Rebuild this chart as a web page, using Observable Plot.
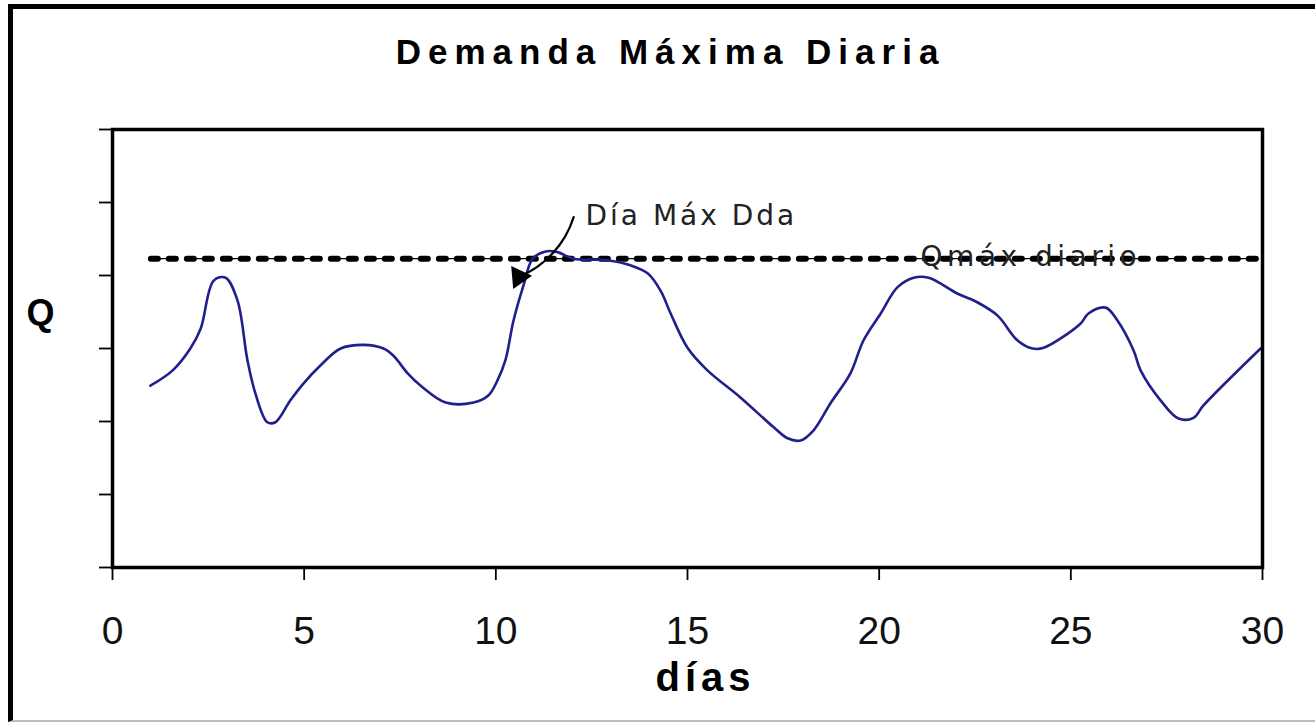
<!DOCTYPE html>
<html>
<head>
<meta charset="utf-8">
<script src="https://cdn.jsdelivr.net/npm/d3@7"></script>
<script src="https://cdn.jsdelivr.net/npm/@observablehq/plot@0.6"></script>
<style>
  html, body { margin: 0; padding: 0; background: #fff; width: 1315px; height: 723px; overflow: hidden; }
  #wrap { position: relative; width: 1315px; height: 723px; }
  #chart { position: absolute; left: 0; top: 0; }
  #border { position: absolute; left: 8px; top: 4px; width: 1400px; height: 711px;
            border-left: 5px solid #000; border-top: 5px solid #000; border-bottom: 2px solid #bbb;
            pointer-events: none; }
</style>
</head>
<body>
<div id="wrap"><div id="chart"></div><div id="border"></div></div>
<script>
// ---- data ----
const days = [0.99, 1.57, 2.03, 2.30, 2.64, 2.95, 3.26, 3.52, 3.73, 4.04, 4.25, 4.64, 4.98, 5.43, 5.95,
  6.55, 7.07, 7.33, 7.70, 8.04, 8.69, 9.42, 9.81, 10.04, 10.25, 10.46, 10.72, 10.96, 11.30, 11.61,
  12.03, 12.91, 13.51, 13.96, 14.30, 14.56, 15.00, 15.52, 16.38, 17.25, 17.61, 17.95, 18.29, 18.73,
  19.25, 19.59, 20.04, 20.48, 20.90, 21.29, 22.05, 22.57, 23.09, 23.61, 24.00, 24.29, 25.25, 25.46,
  25.91, 26.22, 26.64, 26.82, 27.34, 27.81, 28.20, 28.46, 29.95];
const Q = [2.49, 2.70, 3.00, 3.27, 3.93, 3.97, 3.66, 2.84, 2.38, 1.99, 1.99, 2.29, 2.52, 2.77, 3.00,
  3.05, 3.00, 2.90, 2.66, 2.49, 2.26, 2.26, 2.36, 2.56, 2.84, 3.38, 3.86, 4.23, 4.33, 4.32,
  4.23, 4.21, 4.14, 4.03, 3.79, 3.48, 3.01, 2.70, 2.33, 1.92, 1.77, 1.74, 1.88, 2.25,
  2.66, 3.11, 3.48, 3.84, 3.97, 3.97, 3.75, 3.63, 3.45, 3.11, 3.00, 3.01, 3.34, 3.48,
  3.56, 3.38, 2.97, 2.70, 2.29, 2.04, 2.05, 2.22, 3.00];
const xTicks = [0, 5, 10, 15, 20, 25, 30];
const yTicks = [0, 1, 2, 3, 4, 5, 6];
const qMaxValue = 4.23;
const qMaxDays = [1, 30];
const title = "Demanda Máxima Diaria";
const xLabel = "días";
const yLabel = "Q";
const noteText = "Día Máx Dda";
const noteAt = [12.34, 4.82];
const arrowFrom = [12.03, 4.80];
const arrowTo = [10.6, 3.98];
const qMaxText = "Qmáx diario";
const qMaxTextAt = [21.08, 4.25];

const series = days.map((d, i) => ({day: d, q: Q[i]}));
const qMaxLine = qMaxDays.map(d => ({day: d, q: qMaxValue}));

const chart = Plot.plot({
  width: 1315,
  height: 723,
  marginLeft: 112,
  marginRight: 53,
  marginTop: 129,
  marginBottom: 156,
  x: {domain: [0, 30]},
  y: {domain: [0, 6]},
  style: {fontFamily: "'Liberation Sans', Arial, sans-serif", fontSize: "39px", background: "transparent", overflow: "visible"},
  marks: [
    Plot.axisY({ticks: yTicks, tickSize: 13, tickFormat: () => "", strokeWidth: 1.8, label: null}),
    Plot.axisX({ticks: xTicks, tickSize: 13, tickPadding: 36, fontSize: 39, label: null, strokeWidth: 1.8, fill: "#111"}),
    Plot.line(qMaxLine, {x: "day", y: "q", stroke: "#000", strokeWidth: 1.2, strokeDasharray: "9,27", strokeDashoffset: -8}),
    Plot.line(qMaxLine, {x: "day", y: "q", stroke: "#000", strokeWidth: 6, strokeDasharray: "7,11"}),
    Plot.line(series, {x: "day", y: "q", stroke: "#20208c", strokeWidth: 2.6, curve: "catmull-rom"}),
    Plot.arrow([{x1: arrowFrom[0], y1: arrowFrom[1], x2: arrowTo[0], y2: arrowTo[1]}],
      {x1: "x1", y1: "y1", x2: "x2", y2: "y2", bend: 25, headLength: 0, stroke: "#000", strokeWidth: 2.2}),
    Plot.dot([{x: arrowTo[0], y: arrowTo[1]}], {x: "x", y: "y", symbol: "triangle2", r: 11, fill: "#000", rotate: 205}),
    Plot.text([noteText], {x: noteAt[0], y: noteAt[1], text: d => d, textAnchor: "start", fontSize: 28,
      fontFamily: "'DejaVu Sans', Verdana, sans-serif", fill: "#222"}),
    Plot.text([qMaxText], {x: qMaxTextAt[0], y: qMaxTextAt[1], text: d => d, textAnchor: "start", fontSize: 28,
      fontFamily: "'DejaVu Sans', Verdana, sans-serif", fill: "#222"}),
    Plot.text([title], {frameAnchor: "top-left", text: d => d, dx: 558, dy: -90, textAnchor: "middle",
      fontSize: 35, fontWeight: "bold", fontFamily: "'Liberation Sans', Arial, sans-serif", fill: "#000"}),
    Plot.text([xLabel], {frameAnchor: "bottom-left", text: d => d, dx: 593, dy: 123, textAnchor: "middle",
      fontSize: 40, fontWeight: "bold", fontFamily: "'Liberation Sans', Arial, sans-serif", fill: "#000"}),
    Plot.text([yLabel], {frameAnchor: "left", text: d => d, dx: -72, dy: -35, textAnchor: "middle",
      fontSize: 36, fontWeight: "bold", fontFamily: "'Liberation Sans', Arial, sans-serif", fill: "#000"}),
    Plot.frame({stroke: "#000", strokeWidth: 3.5})
  ]
});
document.getElementById("chart").appendChild(chart);

const spacing = {[title]: 7, [xLabel]: 5, [noteText]: 3, [qMaxText]: 4.5};
d3.select(chart).selectAll("text").each(function () {
  const t = this.textContent;
  if (spacing[t] != null) d3.select(this).attr("letter-spacing", spacing[t]);
});
</script>
</body>
</html>
